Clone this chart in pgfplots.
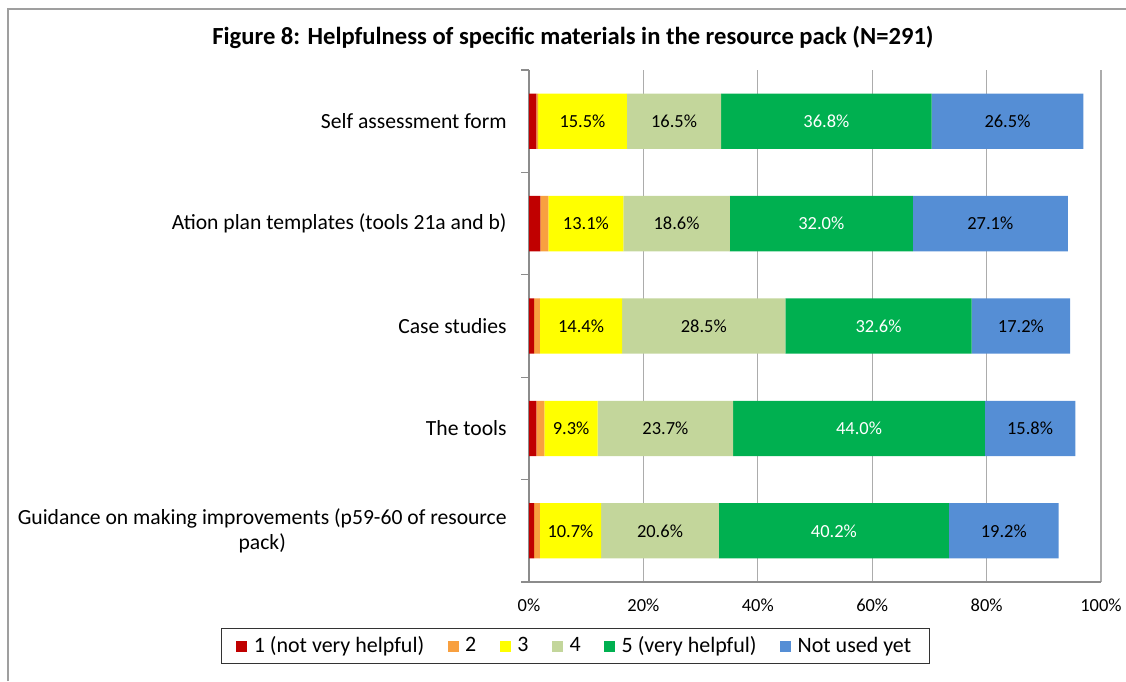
\documentclass[border=0pt]{standalone}
\usepackage{fontspec}
\setmainfont{Carlito}
\usepackage{pgfplots}
\usepackage{pgfplotstable}
\pgfplotsset{compat=1.18}

\definecolor{r1}{HTML}{C00000}
\definecolor{r2}{HTML}{F8A040}
\definecolor{r3}{HTML}{FFFF00}
\definecolor{r4}{HTML}{C3D69B}
\definecolor{r5}{HTML}{00B050}
\definecolor{r6}{HTML}{558ED5}

% share of answers per material (%), columns: rating 1..5, not used yet
\pgfplotstableread{
idx v1  v2  v3   v4   v5   v6
0   1.3 0.3 15.5 16.5 36.8 26.5
1   2.0 1.4 13.1 18.6 32.0 27.1
2   0.9 1.0 14.4 28.5 32.6 17.2
3   1.3 1.4 9.3  23.7 44.0 15.8
4   0.9 1.0 10.7 20.6 40.2 19.2
}\datatable

\pgfplotsset{
  seg/.style={
    point meta=explicit,
    nodes near coords={\pgfmathprintnumber[fixed,fixed zerofill,precision=1]{\pgfplotspointmeta}\%},
    every node near coord/.append style={
      anchor=center, font=\fontsize{10.5}{12}\selectfont, inner sep=0pt},
  },
}

\begin{document}
\begin{tikzpicture}
\useasboundingbox (0,0) rectangle (22.52cm,13.62cm);
% outer frame (only top and left edges are visible)
\draw[gray!75, line width=0.9pt] (0.16cm,0) -- (0.16cm,13.44cm) -- (22.52cm,13.44cm);
\node[anchor=base, font=\bfseries\fontsize{14}{16}\selectfont] at (11.46cm,12.72cm)
  {Figure 8: Helpfulness of specific materials in the resource pack (N=291)};

\begin{axis}[
  at={(10.58cm,1.98cm)}, anchor=south west,
  scale only axis, width=11.44cm, height=10.24cm,
  xbar stacked, bar width=0.54,
  xmin=0, xmax=100, ymin=-0.5, ymax=4.5, y dir=reverse,
  axis x line*=bottom, axis y line*=left,
  axis line style={gray!90, line width=0.7pt, -},
  xtick={0,20,...,100},
  xticklabel={\pgfmathprintnumber{\tick}\%},
  xticklabel style={font=\fontsize{10.5}{12}\selectfont, inner sep=0pt, yshift=-0.34cm},
  ytick={0,...,4},
  yticklabels={{Self assessment form},{Ation plan templates (tools 21a and b)},{Case studies},{The tools},{Guidance on making improvements (p59-60 of resource\\pack)}},
  yticklabel style={align=center, font=\fontsize{12.3}{14.6}\selectfont, inner sep=0pt, xshift=-0.44cm},
  minor ytick={-0.5,0.5,...,4.5},
  tick align=outside, major tick length=0pt, minor tick length=0.16cm,
  minor tick style={gray!90, line width=0.7pt},
  xmajorgrids, grid style={gray!65, line width=0.7pt},
  /pgf/number format/assume math mode=true,
  legend style={at={(0.0813,-0.125)}, anchor=center, legend columns=6,
    draw=black!80, line width=0.6pt, font=\fontsize{12.5}{15}\selectfont,
    inner xsep=0.3cm, inner ysep=0.1cm,
    /tikz/every odd column/.append style={column sep=0.06cm},
    /tikz/every even column/.append style={column sep=0.4cm}},
  legend image code/.code={\fill[#1, draw=none] (0cm,-0.11cm) rectangle (0.22cm,0.11cm);},
]
\addplot[fill=r1, draw=none] table[x=v1, y=idx] {\datatable};
\addlegendentry{1 (not very helpful)}
\addplot[fill=r2, draw=none] table[x=v2, y=idx] {\datatable};
\addlegendentry{2}
\addplot[fill=r3, draw=none, seg] table[x=v3, y=idx, meta=v3] {\datatable};
\addlegendentry{3}
\addplot[fill=r4, draw=none, seg] table[x=v4, y=idx, meta=v4] {\datatable};
\addlegendentry{4}
\addplot[fill=r5, draw=none, seg, every node near coord/.append style={text=white}] table[x=v5, y=idx, meta=v5] {\datatable};
\addlegendentry{5 (very helpful)}
\addplot[fill=r6, draw=none, seg] table[x=v6, y=idx, meta=v6] {\datatable};
\addlegendentry{Not used yet}
\end{axis}
\end{tikzpicture}
\end{document}
